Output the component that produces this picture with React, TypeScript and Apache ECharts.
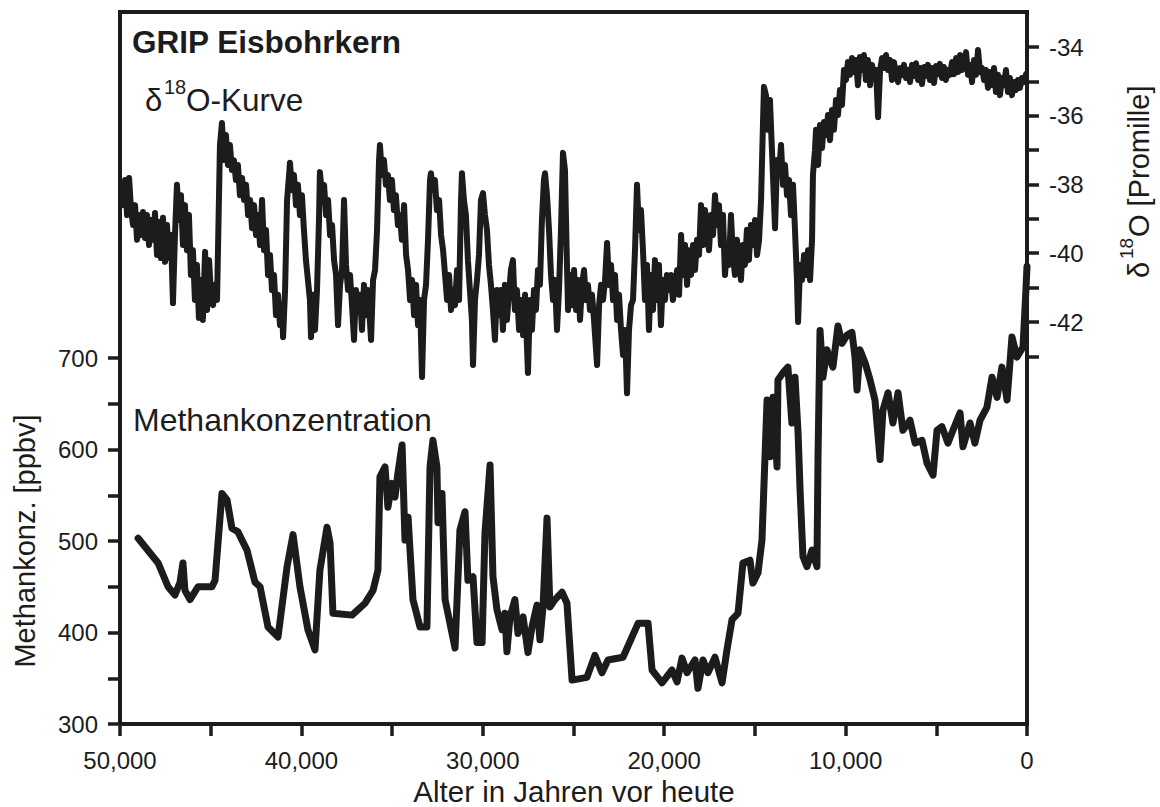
import React, { useEffect, useRef } from "react";
import * as echarts from "echarts";

// δ18O curve: [age in years before present, δ18O in per mille]
const d18oData: [number, number][] = [
  [49940, -38.01], [49830, -38.6], [49720, -37.87], [49610, -38.89], [49500, -37.81], [49390, -38.74], [49280, -39.18], [49170, -38.6], [49060, -39.61], [48950, -38.89],
  [48840, -39.47], [48730, -38.8], [48620, -39.56], [48510, -38.89], [48400, -39.76], [48290, -39.03], [48180, -39.61], [48070, -38.83], [47960, -40.05], [47850, -39.09],
  [47740, -40.14], [47630, -38.97], [47520, -40.25], [47410, -39.18], [47300, -40.14], [47190, -39.47], [47080, -41.45], [46970, -39.47], [46860, -38.01], [46750, -39.03],
  [46640, -38.31], [46530, -39.76], [46420, -38.6], [46310, -39.91], [46200, -38.89], [46090, -40.63], [45980, -39.91], [45870, -41.36], [45760, -40.34], [45650, -41.88],
  [45540, -40.78], [45430, -41.94], [45310, -39.96], [45200, -41.65], [45090, -40.2], [44980, -41.21], [44870, -41.51], [44760, -40.92], [44650, -41.36],
  [44490, -36.85], [44380, -36.21], [44270, -37.29], [44160, -36.56], [44050, -37.43], [43940, -36.85], [43830, -37.58], [43720, -37.29], [43610, -37.87], [43500, -37.43],
  [43390, -38.31], [43270, -37.81], [43160, -38.45], [43050, -38.01], [42940, -38.89], [42830, -38.45], [42720, -39.27], [42610, -38.6], [42500, -39.47], [42390, -38.89],
  [42280, -39.76], [42170, -38.45], [42060, -39.91], [41950, -39.32], [41840, -40.63], [41730, -40.05], [41620, -41.07], [41510, -40.63], [41400, -41.8], [41290, -41.21],
  [41180, -42.09], [41070, -41.51], [41010, -42.44], [40900, -41.07], [40790, -38.45], [40680, -37.72], [40630, -37.37], [40520, -38.16], [40410, -37.72], [40300, -38.6],
  [40190, -38.01], [40080, -38.89], [39970, -38.31], [39860, -39.32], [39750, -40.2], [39640, -40.78], [39530, -41.36], [39470, -42.44], [39360, -41.21], [39250, -42.23],
  [39140, -41.07], [39030, -39.03], [38980, -37.64], [38860, -38.31], [38750, -38.01], [38640, -38.89], [38530, -38.45], [38420, -39.47], [38310, -39.18], [38200, -40.2],
  [38090, -40.63], [37980, -42.09], [37870, -40.92],
  [37760, -40.49], [37650, -38.45], [37540, -40.34], [37430, -41.07], [37320, -40.63], [37210, -41.51], [37100, -42.52], [36990, -41.07], [36880, -41.65], [36770, -41.21],
  [36660, -42.23], [36550, -40.92], [36440, -41.8], [36330, -41.07], [36160, -42.52], [36050, -40.78], [35940, -40.49], [35830, -39.32], [35720, -37.29], [35670, -36.85],
  [35560, -37.72], [35450, -37.29], [35340, -38.01], [35230, -37.72], [35120, -38.45], [35010, -37.87], [34900, -38.74], [34790, -38.31], [34680, -39.18], [34570, -38.89],
  [34460, -39.61], [34340, -38.6], [34230, -40.05], [34120, -40.49], [34010, -41.36], [33900, -40.78], [33790, -41.8], [33680, -40.92], [33570, -42.09], [33460, -41.36],
  [33350, -43.6], [33240, -41.36], [33130, -40.92], [33020, -39.61], [32910, -37.87], [32860, -37.67], [32750, -38.16], [32640, -37.87], [32530, -38.74], [32410, -38.45],
  [32300, -39.47], [32190, -39.91], [32080, -40.63], [31970, -41.36], [31860, -40.63], [31750, -41.65], [31640, -41.07], [31530, -41.51], [31420, -40.49], [31310, -41.36],
  [31200, -38.45], [31150, -37.67], [31040, -38.45], [30930, -38.89], [30820, -40.2], [30710, -41.07], [30600, -41.94], [30540, -43.25], [30430, -41.36], [30320, -40.78],
  [30210, -40.05], [30100, -38.45], [29990, -38.25], [29880, -38.89], [29770, -39.32], [29660, -40.34], [29550, -40.92], [29440, -41.65], [29330, -42.52], [29220, -41.07],
  [29110, -41.8], [29000, -41.07], [28890, -42.23], [28780, -40.92], [28670, -41.94], [28560, -41.21], [28450, -40.49], [28340, -40.2], [28230, -41.65], [28120, -41.07],
  [28000, -42.23], [27890, -41.36], [27780, -42.38], [27670, -41.21], [27510, -43.48], [27400, -41.36], [27290, -42.23], [27180, -41.07], [27070, -41.65], [26960, -40.49],
  [26850, -40.92], [26740, -39.03], [26630, -37.87], [26570, -37.67], [26460, -38.31], [26350, -39.32], [26240, -40.63], [26130, -41.36], [26020, -40.78], [25910, -42.23],
  [25800, -41.07], [25690, -39.32], [25580, -37.08], [25470, -37.58],
  [25360, -40.34], [25300, -41.65], [25190, -40.63], [25080, -41.51], [24970, -40.49], [24860, -41.65], [24750, -40.78], [24640, -41.94], [24530, -40.92], [24420, -40.49],
  [24310, -41.36], [24200, -40.92], [24090, -41.65], [23980, -41.21], [23870, -41.94], [23700, -43.25], [23590, -41.51], [23480, -40.92], [23370, -41.36], [23260, -40.78],
  [23150, -39.7], [23040, -40.92], [22930, -40.34], [22820, -41.36], [22710, -40.63], [22600, -41.94], [22490, -41.21], [22380, -42.23], [22270, -42.96], [22160, -42.23],
  [22050, -44.07], [21940, -42.23], [21830, -41.51], [21720, -41.36], [21610, -39.91], [21500, -38.01], [21390, -39.32], [21280, -38.74], [21170, -39.91], [21060, -41.36],
  [20950, -40.34], [20840, -42.23], [20730, -40.63], [20620, -41.65], [20510, -40.2], [20400, -41.36], [20290, -40.34], [20180, -42.09], [20070, -40.78], [19960, -41.36],
  [19850, -40.63], [19740, -41.07], [19630, -40.63], [19520, -41.36], [19400, -40.92], [19290, -40.49], [19180, -41.21], [19070, -39.47], [18960, -40.63], [18850, -39.76],
  [18740, -40.92], [18630, -39.91], [18520, -40.63], [18410, -39.76], [18300, -40.49], [18190, -39.61], [18080, -40.05], [17970, -38.6], [17860, -39.76], [17750, -38.74],
  [17640, -39.32], [17530, -39.91], [17420, -38.89], [17310, -39.47], [17200, -38.31], [17090, -39.18], [16980, -38.6], [16870, -39.76], [16760, -38.89], [16650, -40.63],
  [16540, -39.91], [16430, -40.34], [16320, -38.89], [16210, -40.05], [16100, -40.63], [15990, -39.61], [15880, -40.2], [15770, -40.78], [15660, -39.76], [15550, -40.34],
  [15440, -39.32], [15330, -40.2], [15220, -39.18], [15100, -39.76], [14990, -39.03], [14880, -40.05], [14770, -39.61], [14660, -38.45], [14550, -36.12], [14500, -35.16],
  [14390, -35.4], [14280, -36.41], [14170, -35.54], [14060, -37.0], [13950, -38.45], [13890, -39.27], [13780, -37.29], [13670, -37.72], [13560, -36.85], [13450, -38.01],
  [13340, -37.43], [13230, -38.31], [13120, -37.87],
  [13010, -38.89], [12900, -38.01], [12790, -39.32], [12680, -40.78], [12620, -42.0], [12510, -40.34], [12400, -40.78], [12290, -40.05], [12180, -40.63], [12070, -39.91],
  [11960, -40.78], [11850, -39.61], [11800, -37.72], [11690, -37.0], [11630, -36.41], [11520, -37.43], [11410, -36.27], [11300, -36.94], [11190, -36.18], [11080, -36.56],
  [10970, -35.98], [10860, -36.71], [10750, -35.83], [10640, -36.41], [10530, -35.54], [10420, -35.98], [10310, -35.25], [10200, -35.69], [10090, -34.67], [9980, -34.96],
  [9870, -34.44], [9760, -34.81], [9650, -34.32], [9540, -34.73], [9430, -34.38], [9320, -35.11], [9210, -34.29], [9100, -34.67], [8990, -34.23], [8880, -34.96],
  [8770, -34.38], [8650, -35.11], [8540, -34.52], [8430, -34.9], [8320, -34.67], [8210, -36.04], [8100, -34.67], [7990, -34.32], [7880, -34.61], [7770, -34.23],
  [7660, -34.67], [7550, -34.38], [7440, -34.96], [7330, -34.44], [7220, -34.81], [7110, -35.02], [7000, -34.61], [6890, -34.81], [6780, -34.52], [6670, -34.9],
  [6560, -34.67], [6450, -35.02], [6340, -34.52], [6230, -34.84], [6120, -34.47], [6010, -34.96], [5900, -34.61], [5790, -35.08], [5680, -34.58], [5570, -34.84],
  [5460, -34.52], [5350, -34.96], [5240, -34.61], [5130, -35.05], [5020, -34.55], [4910, -34.79], [4800, -34.49], [4690, -34.9], [4580, -34.58], [4470, -34.96],
  [4360, -34.67], [4250, -34.81], [4130, -34.44], [4020, -34.79], [3910, -34.32], [3800, -34.73], [3690, -34.23], [3580, -34.67], [3470, -34.44], [3360, -34.15],
  [3250, -34.81], [3140, -34.52], [3030, -35.02], [2920, -34.38], [2810, -34.81], [2700, -34.09], [2590, -34.73], [2480, -34.61], [2370, -34.96], [2260, -34.67],
  [2150, -35.19], [2040, -34.73], [1930, -35.11], [1820, -34.61], [1710, -35.31], [1600, -34.81], [1490, -35.4], [1380, -34.9], [1270, -35.11], [1160, -34.67],
  [1050, -35.31], [940, -34.9], [830, -35.4], [720, -35.02], [610, -35.25], [500, -34.96], [390, -35.19], [280, -34.9], [170, -35.02], [50, -34.79],
];

// Methane concentration: [age in years before present, ppbv]
const ch4Data: [number, number][] = [
  [49000, 503], [47900, 476], [47350, 450], [46970, 441], [46690, 455], [46530, 476], [46420, 446], [46140, 436], [45700, 450], [44930, 450],
  [44760, 457], [44380, 552], [44100, 545], [43830, 514], [43500, 510], [43000, 490], [42560, 455], [42280, 450], [41840, 406], [41290, 395],
  [40790, 472], [40460, 507], [40080, 450], [39640, 403], [39250, 381], [38980, 468], [38590, 515], [38420, 498], [38260, 421], [37210, 419],
  [36490, 432], [36050, 446], [35780, 468], [35670, 570], [35390, 581], [35230, 537], [35010, 563], [34840, 548], [34680, 574], [34450, 605],
  [34290, 501], [34120, 526], [33850, 436], [33460, 406], [33080, 406], [32910, 581], [32750, 610], [32530, 581], [32470, 520], [32250, 552],
  [32080, 436], [31530, 383], [31260, 512], [30980, 532], [30820, 457], [30540, 461], [30320, 389], [30040, 389], [29880, 509], [29600, 583],
  [29440, 461], [29220, 425], [28940, 403], [28780, 421], [28670, 379], [28500, 417], [28230, 436], [28060, 399], [27780, 417], [27510, 378],
  [27290, 406], [27010, 430], [26850, 392], [26680, 428], [26460, 525], [26300, 428], [26020, 436], [25630, 444], [25360, 432], [25080, 348],
  [24260, 351], [23820, 375], [23430, 356], [23100, 370], [22270, 373], [21440, 410], [20890, 410], [20670, 359], [20120, 345], [19570, 359],
  [19290, 346], [19020, 372], [18740, 356], [18300, 370], [18140, 339], [17860, 370], [17590, 356], [17200, 373], [16810, 345], [16540, 381],
  [16260, 414], [15930, 421], [15660, 476], [15270, 479], [15110, 454], [14830, 465], [14610, 501], [14330, 654], [14170, 592], [14000, 657],
  [13780, 581], [13730, 676], [13450, 684], [13180, 690], [12960, 629], [12790, 679], [12620, 618], [12510, 556], [12350, 483], [12130, 472],
  [11850, 490], [11580, 472], [11520, 592], [11410, 730], [11250, 679], [11030, 709], [10700, 690], [10420, 735], [10200, 716], [9920, 725],
  [9650, 728], [9480, 701], [9370, 665], [9210, 709], [8930, 695], [8650, 676], [8380, 654], [8100, 589], [7940, 643], [7660, 662],
  [7390, 629], [7110, 662], [6840, 621], [6450, 632], [6170, 607], [5790, 610], [5510, 585], [5180, 572], [4960, 621], [4690, 625],
  [4360, 607], [4080, 621], [3690, 640], [3530, 603], [3140, 629], [2870, 607], [2590, 632], [2210, 646], [1930, 679], [1650, 657],
  [1380, 690], [1100, 654], [830, 723], [550, 701], [220, 712], [60, 774], [0, 800],
];

const xLabelValues = [0, 10000, 20000, 30000, 40000, 50000];
const ch4TickValues = [300, 350, 400, 450, 500, 550, 600, 650, 700];
const ch4LabelValues = [300, 400, 500, 600, 700];
const d18oTickValues = [-43, -42, -41, -40, -39, -38, -37, -36, -35, -34];
const d18oLabelValues = [-42, -40, -38, -36, -34];

const INK = "#1c1c1c";
const FONT = '"Liberation Sans", Arial, Helvetica, sans-serif';

export default function App() {
  const ref = useRef<HTMLDivElement>(null);

  useEffect(() => {
    if (!ref.current) return;
    const chart = echarts.init(ref.current, null, { renderer: "svg" });

    const fmtAge = (v: number) => {
      if (v % 10000 !== 0) return "";
      if (v === 0) return "0";
      return `${Math.round(v / 1000)},000`;
    };

    const option: any = {
      animation: false,
      backgroundColor: "#ffffff",
      grid: {
        left: 120,
        right: 133,
        top: 12,
        bottom: 83,
        show: true,
        borderColor: INK,
        borderWidth: 4,
        backgroundColor: "transparent",
      },
      xAxis: {
        type: "value",
        inverse: true,
        min: 0,
        max: 50000,
        interval: 5000,
        axisLine: { show: true, lineStyle: { color: INK, width: 4 } },
        axisTick: { show: true, inside: false, length: 12, lineStyle: { color: INK, width: 3.5 } },
        axisLabel: {
          customValues: xLabelValues,
          formatter: fmtAge,
          fontSize: 24,
          fontFamily: FONT,
          color: INK,
          margin: 24,
        },
        splitLine: { show: false },
      },
      yAxis: [
        {
          type: "value",
          position: "left",
          min: 300,
          max: 300 + 712 / 0.915,
          axisLine: { show: true, onZero: false, lineStyle: { color: INK, width: 4 } },
          axisTick: { show: true, length: 12, customValues: ch4TickValues, lineStyle: { color: INK, width: 3.5 } },
          axisLabel: {
            customValues: ch4LabelValues,
            formatter: (v: number) => (ch4LabelValues.indexOf(v) >= 0 ? String(v) : ""),
            fontSize: 24,
            fontFamily: FONT,
            color: INK,
            margin: 22,
          },
          splitLine: { show: false },
        },
        {
          type: "value",
          position: "right",
          min: -34 - 677 / 34.375,
          max: -34 + 35 / 34.375,
          axisLine: { show: true, onZero: false, lineStyle: { color: INK, width: 4 } },
          axisTick: { show: true, length: 12, customValues: d18oTickValues, lineStyle: { color: INK, width: 3.5 } },
          axisLabel: {
            customValues: d18oLabelValues,
            formatter: (v: number) => (d18oLabelValues.indexOf(v) >= 0 ? String(v) : ""),
            fontSize: 24,
            fontFamily: FONT,
            color: INK,
            margin: 22,
          },
          splitLine: { show: false },
        },
      ],
      series: [
        {
          type: "line",
          name: "δ18O",
          xAxisIndex: 0,
          yAxisIndex: 1,
          data: d18oData,
          symbol: "none",
          silent: true,
          lineStyle: { color: INK, width: 6, join: "round", cap: "round" },
        },
        {
          type: "line",
          name: "Methan",
          xAxisIndex: 0,
          yAxisIndex: 0,
          data: ch4Data,
          symbol: "none",
          silent: true,
          lineStyle: { color: INK, width: 7, join: "round", cap: "round" },
        },
      ],
      graphic: [
        {
          type: "text",
          x: 132,
          y: 42,
          style: { text: "GRIP Eisbohrkern", font: `bold 31.5px ${FONT}`, fill: INK, align: "left", verticalAlign: "middle" },
        },
        {
          type: "text",
          x: 145,
          y: 100,
          style: { text: "δ", font: `31px ${FONT}`, fill: INK, align: "left", verticalAlign: "middle" },
        },
        {
          type: "text",
          x: 164,
          y: 87,
          style: { text: "18", font: `20px ${FONT}`, fill: INK, align: "left", verticalAlign: "middle" },
        },
        {
          type: "text",
          x: 186,
          y: 100,
          style: { text: "O-Kurve", font: `31.5px ${FONT}`, fill: INK, align: "left", verticalAlign: "middle" },
        },
        {
          type: "text",
          x: 133,
          y: 420,
          style: { text: "Methankonzentration", font: `32px ${FONT}`, fill: INK, align: "left", verticalAlign: "middle" },
        },
        {
          type: "text",
          x: 25,
          y: 541,
          rotation: Math.PI / 2,
          style: { text: "Methankonz. [ppbv]", font: `29px ${FONT}`, fill: INK, align: "center", verticalAlign: "middle" },
        },
        {
          type: "text",
          x: 574,
          y: 791,
          style: { text: "Alter in Jahren vor heute", font: `29.5px ${FONT}`, fill: INK, align: "center", verticalAlign: "middle" },
        },
        {
          type: "group",
          x: 1139,
          y: 278,
          rotation: Math.PI / 2,
          children: [
            {
              type: "text",
              x: 0,
              y: 0,
              style: { text: "δ", font: `29px ${FONT}`, fill: INK, align: "left", verticalAlign: "middle" },
            },
            {
              type: "text",
              x: 19,
              y: -13,
              style: { text: "18", font: `19px ${FONT}`, fill: INK, align: "left", verticalAlign: "middle" },
            },
            {
              type: "text",
              x: 41,
              y: 0,
              style: { text: "O [Promille]", font: `29px ${FONT}`, fill: INK, align: "left", verticalAlign: "middle" },
            },
          ],
        },
      ],
    };

    chart.setOption(option);
    return () => chart.dispose();
  }, []);

  return (
    <div
      ref={ref}
      style={{ position: "fixed", left: 0, top: 0, width: 1160, height: 807, background: "#ffffff" }}
    />
  );
}
